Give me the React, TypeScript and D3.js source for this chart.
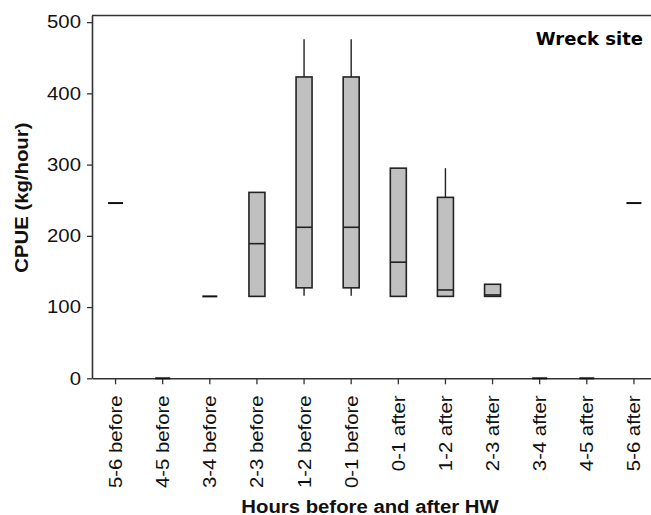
import React from "react";
import { useRef, useEffect } from "react";
import { select, scaleLinear, scaleBand, axisBottom, axisLeft } from "d3";

// hour bins around high water
const categories = [
  "5-6 before",
  "4-5 before",
  "3-4 before",
  "2-3 before",
  "1-2 before",
  "0-1 before",
  "0-1 after",
  "1-2 after",
  "2-3 after",
  "3-4 after",
  "4-5 after",
  "5-6 after",
];

// box plot stats, CPUE kg/hour
const lowWhisker = [246, 0, 115, 115, 116, 116, 115, 115, 115, 0, 0, 246];
const q1 = [246, 0, 115, 115, 127, 127, 115, 115, 115, 0, 0, 246];
const medians = [246, 0, 115, 189, 212, 212, 163, 124, 117, 0, 0, 246];
const q3 = [246, 0, 115, 261, 423, 423, 295, 254, 132, 0, 0, 246];
const highWhisker = [246, 0, 115, 261, 476, 476, 295, 295, 132, 0, 0, 246];

const yTicks = [0, 100, 200, 300, 400, 500];

const yTitle = "CPUE (kg/hour)";
const xTitle = "Hours before and after HW";
const siteLabel = "Wreck site";

function App() {
  const svgRef = useRef<SVGSVGElement>(null);

  useEffect(() => {
    const width = 651;
    const height = 515;
    const margin = { top: 15, left: 92, bottom: 378.3, right: 657.5 };
    const stretch = "scale(1.13,1)";
    const ink = "#222";

    const svg = select(svgRef.current);
    svg.selectAll("*").remove();
    svg.attr("width", width).attr("height", height);

    const xScale = scaleBand<string>()
      .domain(categories)
      .range([margin.left, margin.right])
      .padding(0);
    const yScale = scaleLinear().domain([0, 510]).range([margin.bottom, margin.top]);

    // top frame line
    svg
      .append("line")
      .attr("x1", margin.left)
      .attr("x2", margin.right)
      .attr("y1", margin.top + 0.5)
      .attr("y2", margin.top + 0.5)
      .attr("stroke", "#333")
      .attr("stroke-width", 1.6);

    const yAxis = axisLeft(yScale).tickValues(yTicks).tickSize(5).tickSizeOuter(0);
    const yG = svg
      .append("g")
      .attr("transform", `translate(${margin.left},0)`)
      .call(yAxis);
    yG.select(".domain").attr("stroke", "#333").attr("stroke-width", 1.6);
    yG.selectAll(".tick line").attr("stroke", "#333").attr("stroke-width", 1.3);
    yG.selectAll(".tick text")
      .attr("x", -9.8)
      .attr("transform", stretch)
      .attr("font-family", "'Liberation Sans', Arial, sans-serif")
      .attr("font-size", 18)
      .attr("fill", "#111");

    const xAxis = axisBottom(xScale).tickSize(6).tickSizeOuter(0);
    const xG = svg
      .append("g")
      .attr("transform", `translate(0,${margin.bottom})`)
      .call(xAxis);
    xG.select(".domain").attr("stroke", "#333").attr("stroke-width", 1.6);
    xG.selectAll(".tick line").attr("stroke", "#333").attr("stroke-width", 1.3);
    xG.selectAll(".tick text")
      .attr("x", -15.2)
      .attr("y", 0)
      .attr("dy", "0.36em")
      .attr("text-anchor", "end")
      .attr("transform", `rotate(-90) ${stretch}`)
      .attr("font-family", "'Liberation Sans', Arial, sans-serif")
      .attr("font-size", 18)
      .attr("fill", "#111");

    const boxW = 16;
    const lineW = 15;
    const cx = (c: string) => (xScale(c) ?? 0) + xScale.bandwidth() / 2;
    const plot = svg.append("g");

    categories.forEach((c, i) => {
      const x = cx(c);
      // whiskers
      if (highWhisker[i] > q3[i]) {
        plot
          .append("line")
          .attr("x1", x)
          .attr("x2", x)
          .attr("y1", yScale(q3[i]))
          .attr("y2", yScale(highWhisker[i]))
          .attr("stroke", ink)
          .attr("stroke-width", 1.4);
      }
      if (lowWhisker[i] < q1[i]) {
        plot
          .append("line")
          .attr("x1", x)
          .attr("x2", x)
          .attr("y1", yScale(q1[i]))
          .attr("y2", yScale(lowWhisker[i]))
          .attr("stroke", ink)
          .attr("stroke-width", 1.4);
      }
      if (q3[i] > q1[i]) {
        plot
          .append("rect")
          .attr("x", x - boxW / 2)
          .attr("width", boxW)
          .attr("y", yScale(q3[i]))
          .attr("height", yScale(q1[i]) - yScale(q3[i]))
          .attr("fill", "#c0c0c0")
          .attr("stroke", ink)
          .attr("stroke-width", 1.6);
        plot
          .append("line")
          .attr("x1", x - boxW / 2)
          .attr("x2", x + boxW / 2)
          .attr("y1", yScale(medians[i]))
          .attr("y2", yScale(medians[i]))
          .attr("stroke", ink)
          .attr("stroke-width", 1.6);
      } else {
        // single observation -> just a line
        plot
          .append("line")
          .attr("x1", x - lineW / 2)
          .attr("x2", x + lineW / 2)
          .attr("y1", yScale(medians[i]))
          .attr("y2", yScale(medians[i]))
          .attr("stroke", "#111")
          .attr("stroke-width", 2);
      }
    });

    svg
      .append("text")
      .attr("transform", `translate(28,${(margin.top + margin.bottom) / 2 + 1}) rotate(-90) ${stretch}`)
      .attr("text-anchor", "middle")
      .attr("font-family", "'Liberation Sans', Arial, sans-serif")
      .attr("font-weight", "bold")
      .attr("font-size", 18)
      .attr("fill", "#111")
      .text(yTitle);

    svg
      .append("text")
      .attr("transform", `translate(370,512.5) ${stretch}`)
      .attr("text-anchor", "middle")
      .attr("font-family", "'Liberation Sans', Arial, sans-serif")
      .attr("font-weight", "bold")
      .attr("font-size", 18)
      .attr("fill", "#111")
      .text(xTitle);

    svg
      .append("text")
      .attr("transform", "translate(643,45) scale(1.06,1)")
      .attr("text-anchor", "end")
      .attr("font-family", "'DejaVu Sans', Verdana, sans-serif")
      .attr("font-weight", "bold")
      .attr("font-size", 17)
      .attr("fill", "#000")
      .text(siteLabel);
  }, []);

  return (
    <React.Fragment>
      <svg ref={svgRef} style={{ position: "absolute", left: 0, top: 0, background: "#fff" }} />
    </React.Fragment>
  );
}

export default App;
